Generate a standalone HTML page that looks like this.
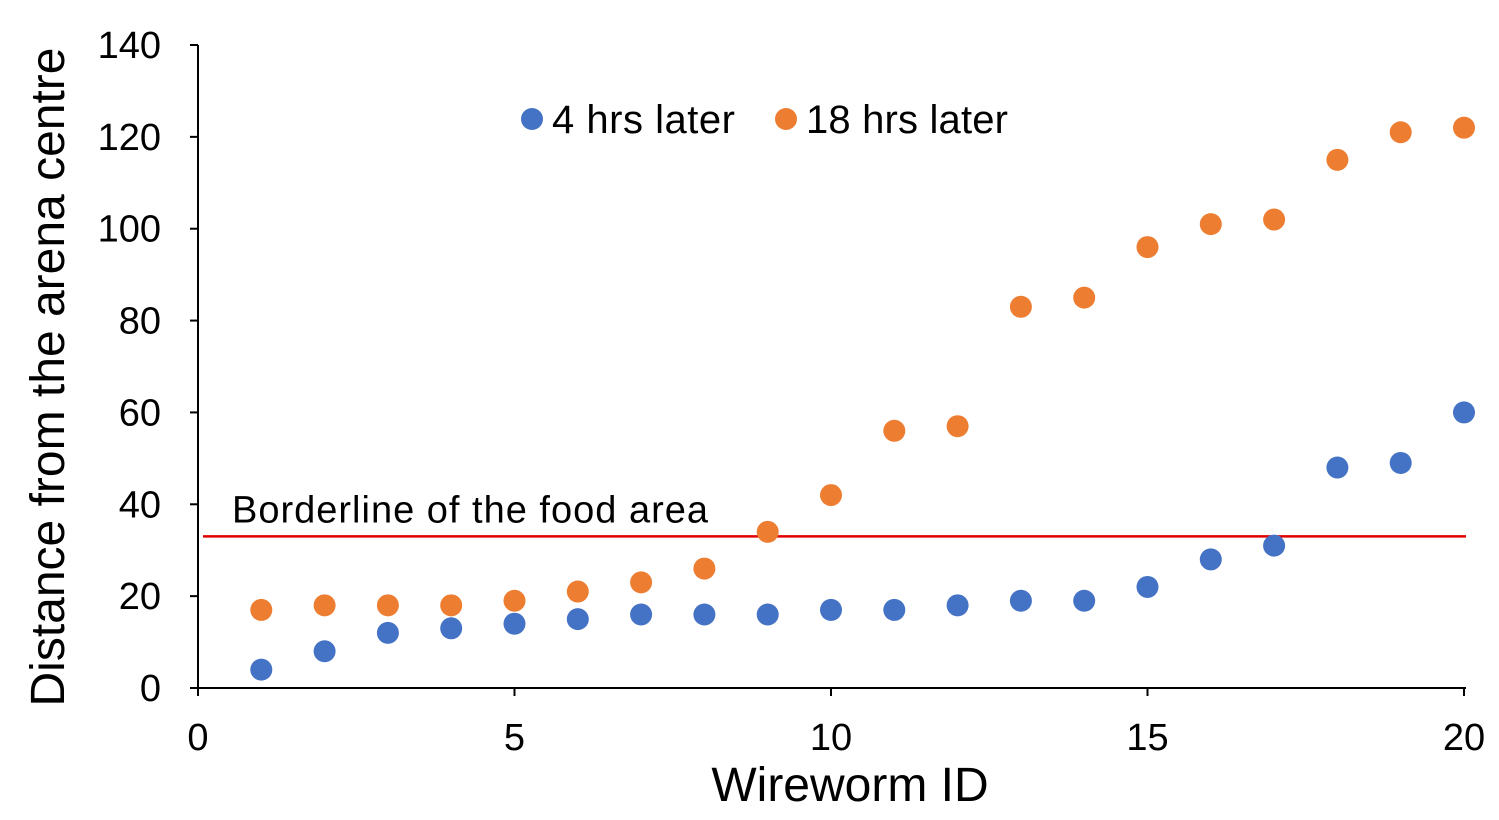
<!DOCTYPE html>
<html><head><meta charset="utf-8"><style>
body{margin:0;background:#fff}
svg text{font-family:"Liberation Sans",Arial,sans-serif;fill:#000}
</style></head><body>
<svg id="chart" width="1499" height="815">
<g id="axes"></g><g id="marks"></g>
</svg>
<script>
const ids=[1,2,3,4,5,6,7,8,9,10,11,12,13,14,15,16,17,18,19,20];
const hrs4=[4,8,12,13,14,15,16,16,16,17,17,18,19,19,22,28,31,48,49,60];
const hrs18=[17,18,18,18,19,21,23,26,34,42,56,57,83,85,96,101,102,115,121,122];
const xTicks=[0,5,10,15,20];
const yTicks=[0,20,40,60,80,100,120,140];
const borderline=33;
const NS="http://www.w3.org/2000/svg";
const X=v=>198+v*(1464-198)/20;
const Y=v=>688-v*(688-45)/140;
const axes=document.getElementById('axes'),marks=document.getElementById('marks');
function mk(tag,attrs,parent,txt){const e=document.createElementNS(NS,tag);for(const k in attrs)e.setAttribute(k,attrs[k]);if(txt!==undefined)e.textContent=txt;parent.appendChild(e);return e;}
let e;
e=mk('line',{x1:198,y1:45,x2:198,y2:688,stroke:'#000','stroke-width':2},axes);


e=mk('line',{x1:198,y1:688,x2:1466,y2:688,stroke:'#000','stroke-width':2},axes);


yTicks.forEach(t=>{
 mk('line',{x1:190,y1:Y(t),x2:198,y2:Y(t),stroke:'#000','stroke-width':2},axes);
 e=mk('text',{x:161,y:Y(t)+13,'text-anchor':'end','font-size':38,transform:'scale(1,1)'},axes,t);
 
 
});
xTicks.forEach(t=>{
 mk('line',{x1:X(t),y1:688,x2:X(t),y2:696,stroke:'#000','stroke-width':2},axes);
 e=mk('text',{x:X(t),y:750,'text-anchor':'middle','font-size':38},axes,t);
 
 
});
e=mk('text',{x:850,y:801,'text-anchor':'middle','font-size':48},axes,'Wireworm ID');


e=mk('text',{x:0,y:0,'text-anchor':'middle','font-size':48,transform:'translate(64,377) rotate(-90)'},axes,'Distance from the arena centre');


e=mk('line',{x1:203,y1:Y(borderline),x2:1466,y2:Y(borderline),stroke:'#e00000','stroke-width':2.5},marks);


e=mk('text',{x:232,y:Y(borderline)-14,'font-size':38,textLength:476},marks,'Borderline of the food area');


ids.forEach((id,i)=>{
 e=mk('circle',{cx:X(id),cy:Y(hrs4[i]),r:11,fill:'#4472c4'},marks);
 
 
 e=mk('circle',{cx:X(id),cy:Y(hrs18[i]),r:11,fill:'#ed7d31'},marks);
 
 
});
e=mk('circle',{cx:532,cy:119,r:11,fill:'#4472c4'},marks);


e=mk('text',{x:552,y:133,'font-size':40,textLength:183},marks,'4 hrs later');


e=mk('circle',{cx:786,cy:119,r:11,fill:'#ed7d31'},marks);


e=mk('text',{x:806,y:133,'font-size':40,textLength:202},marks,'18 hrs later');


</script>
</body></html>
